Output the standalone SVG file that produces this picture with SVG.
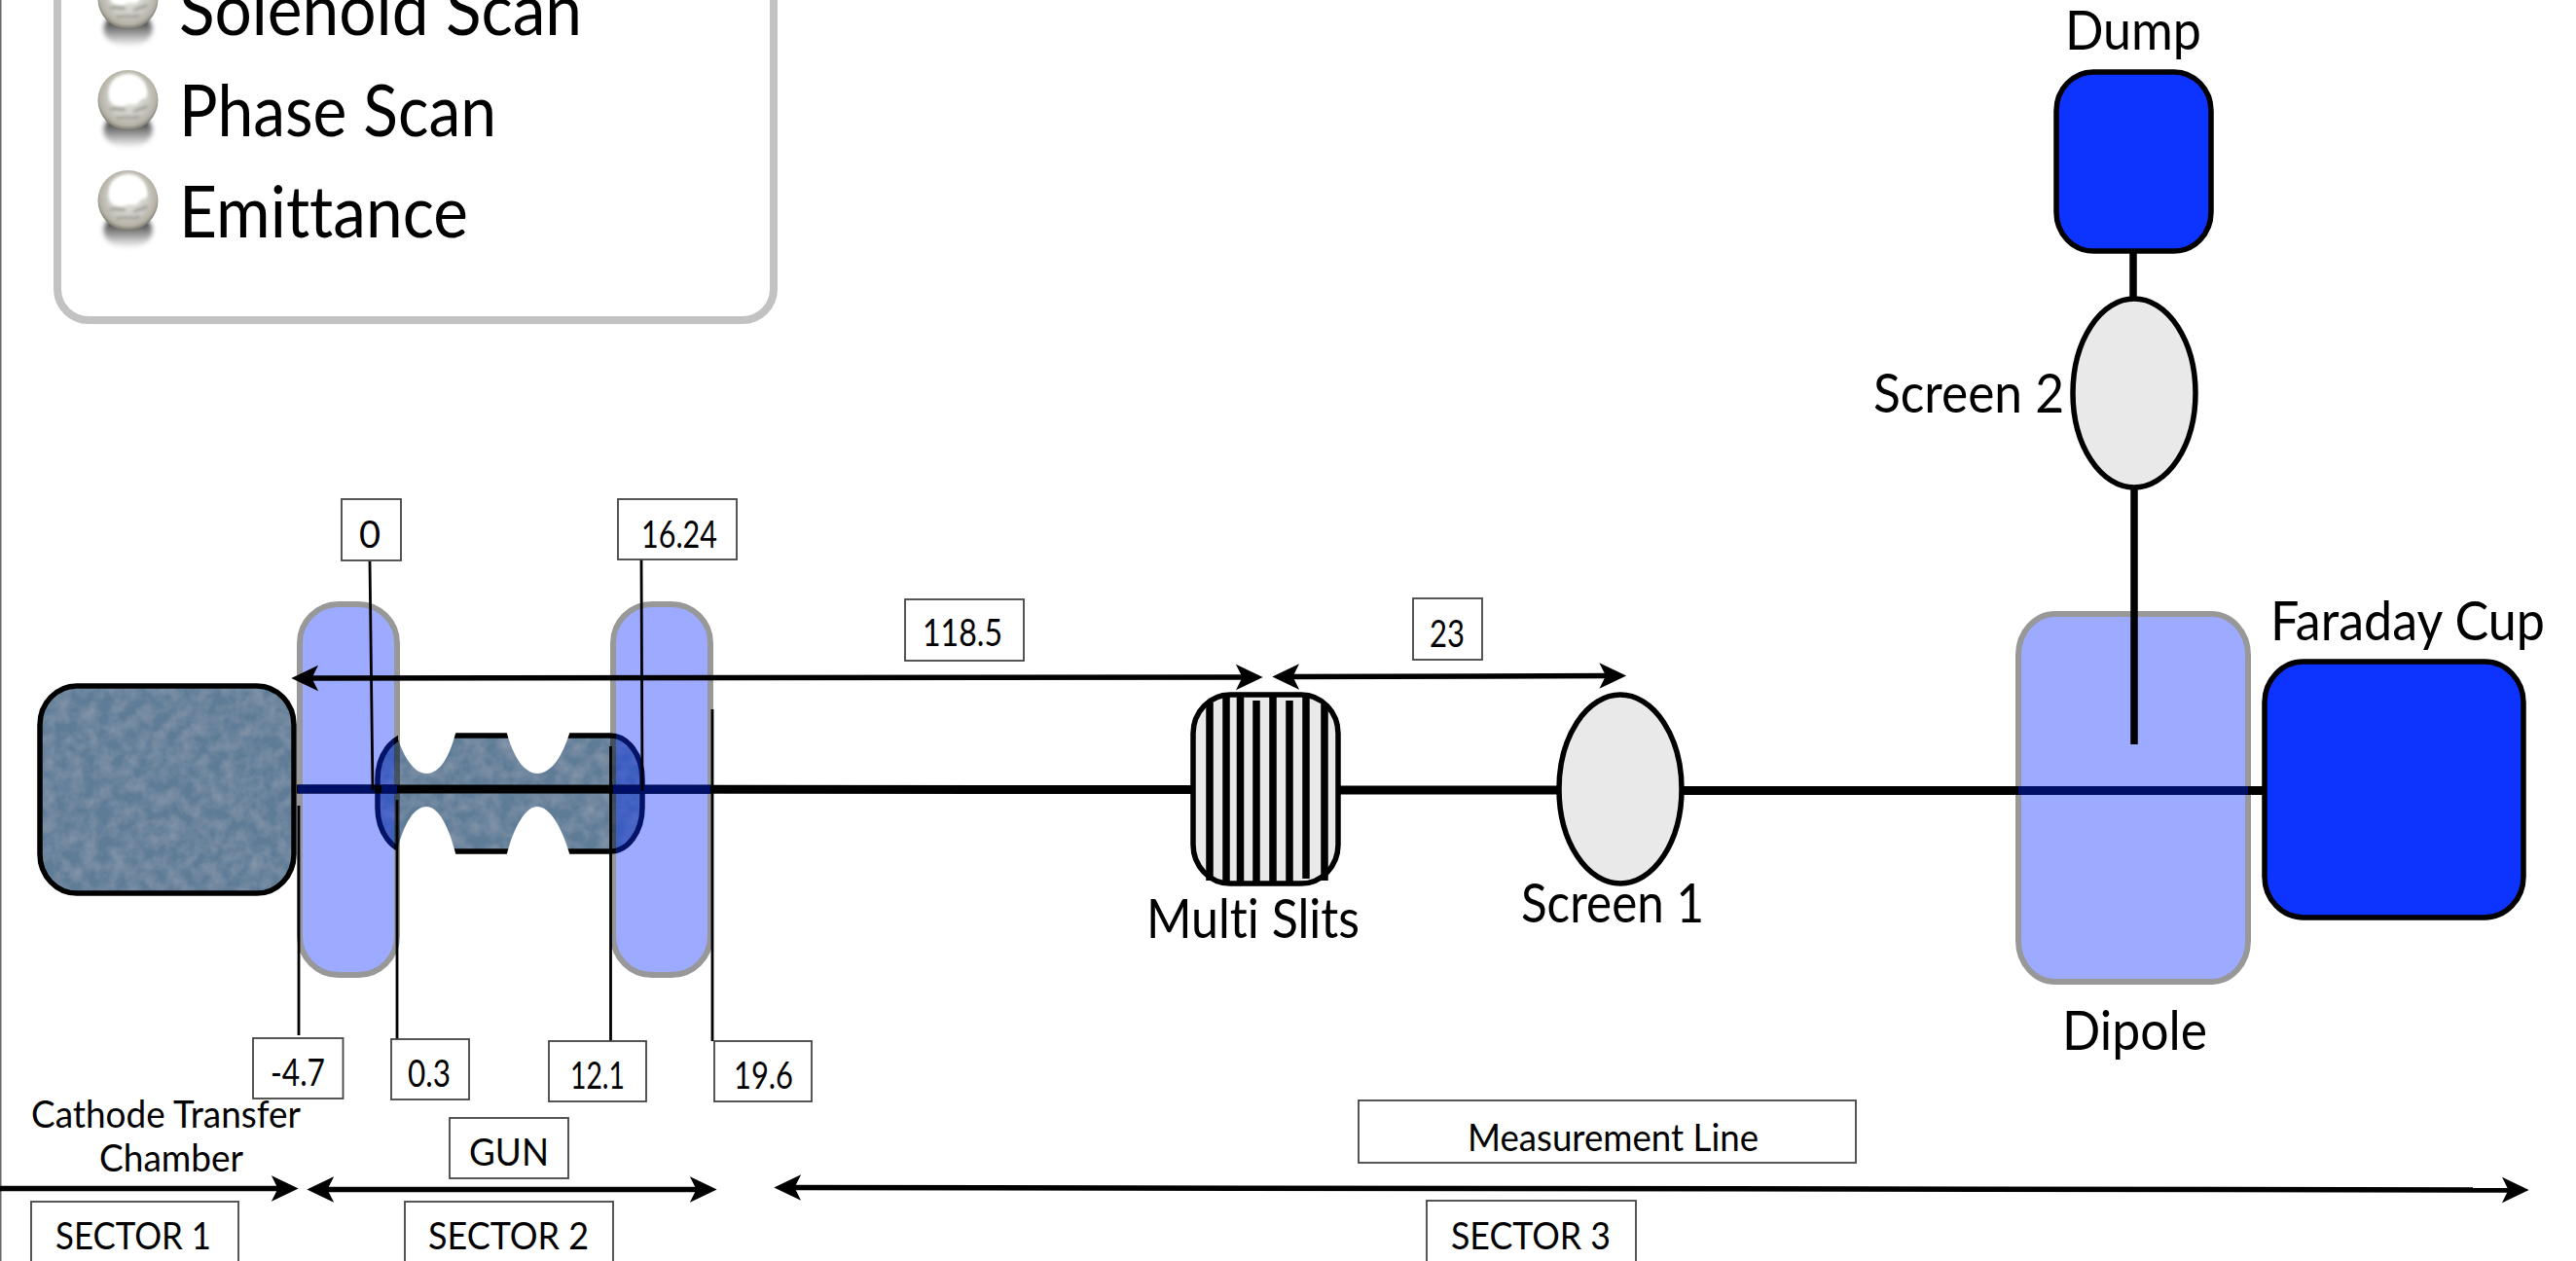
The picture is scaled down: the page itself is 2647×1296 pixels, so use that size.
<svg xmlns="http://www.w3.org/2000/svg" width="2647" height="1296" viewBox="0 0 2647 1296">
<style>
text{font-family:"Lato","Open Sans","Liberation Sans",sans-serif;fill:#000;font-variant-ligatures:none}
.big{font-size:74px}
.lab{font-size:56px}
.sm{font-size:38px}
.box{fill:#fff;stroke:#444;stroke-width:1.8}
.thin{stroke:#000;stroke-width:2.8;fill:none}
.beam{stroke:#000;stroke-width:9;fill:none}
.navy{stroke:#000f66;stroke-width:9;fill:none}
.arr{stroke:#000;stroke-width:5.500;fill:none;marker-start:url(#head);marker-end:url(#head)}
.mag{fill:#0a30ff;stroke:#000;stroke-width:6;opacity:.4}
.blk{stroke:#000;stroke-width:5.500}
.blue{fill:#0d33ff}
.scr{fill:#e9e9e9}
.steel{fill:#5f7b97}
.slit{stroke:#000;stroke-width:7.500}
</style>
<defs>
<marker id="head" markerUnits="userSpaceOnUse" markerWidth="30" markerHeight="30" viewBox="0 0 27 26" refX="10" refY="13" orient="auto-start-reverse">
<path d="M25 13 L0 1 L6 13 L0 25 Z" fill="#000"/>
</marker>
<radialGradient id="ball" cx=".5" cy=".45" r=".56">
<stop offset="0" stop-color="#e6e5e0"/><stop offset=".6" stop-color="#cbcac3"/><stop offset=".84" stop-color="#b5b1a6"/><stop offset="1" stop-color="#6f6c64"/>
</radialGradient>
<linearGradient id="shade" x1="0" y1="0" x2="0" y2="1"><stop offset="0" stop-color="#000" stop-opacity="1"/><stop offset="1" stop-color="#000" stop-opacity="0"/></linearGradient>
<filter id="soft" x="-30%" y="-30%" width="160%" height="160%"><feGaussianBlur stdDeviation="2.500"/></filter>
<filter id="soft2" x="-30%" y="-30%" width="160%" height="160%"><feGaussianBlur stdDeviation="1.500"/></filter>
<filter id="tex" x="0" y="0" width="100%" height="100%">
<feTurbulence type="fractalNoise" baseFrequency=".07" numOctaves="3" seed="4" result="n"/>
<feColorMatrix in="n" type="matrix" values="0 0 0 0 1  0 0 0 0 1  0 0 0 0 1  .22 0 0 0 -.07" result="m"/>
<feComposite in="m" in2="SourceGraphic" operator="in" result="c"/>
<feMerge><feMergeNode in="SourceGraphic"/><feMergeNode in="c"/></feMerge>
</filter>
<g id="bullet">
<ellipse cx="0" cy="31" rx="25" ry="18" fill="url(#shade)" filter="url(#soft)"/>
<ellipse cx="0" cy="0" rx="31" ry="31" fill="url(#ball)"/>
<path d="M-20 -6C-20 -22 -8 -27 1 -27C12 -27 20 -18 20 -6C20 0 14 -3 11 2C8 7 3 2 -2 5C-9 8 -20 6 -20 -6Z" fill="#fff" filter="url(#soft2)"/>
<path d="M-19 10C-12 6 -6 12 -3 9M6 12C10 8 15 10 20 6M-12 19C-6 16 4 20 12 17" fill="none" stroke="#a5a49c" stroke-width="3" filter="url(#soft2)"/>
</g>
</defs>
<rect width="2647" height="1296" fill="#fff"/>
<g id="page-edge"><rect x="0" y="0" width="1.5" height="1296" fill="#666"/></g>
<g id="legend">
<rect x="59" y="-120" width="736" height="449" rx="32" ry="32" fill="#fff" stroke="#c2c2c2" stroke-width="8"/>
<use href="#bullet" x="131.500" y="-1"/><use href="#bullet" x="131.500" y="103"/><use href="#bullet" x="131.500" y="206"/>
<text class="big" x="184" y="36" textLength="414" lengthAdjust="spacingAndGlyphs">Solenoid Scan</text>
<text class="big" x="184" y="140" textLength="326" lengthAdjust="spacingAndGlyphs">Phase Scan</text>
<text class="big" x="184" y="244" textLength="297" lengthAdjust="spacingAndGlyphs">Emittance</text>
</g>
<g id="cathode-chamber">
<rect class="steel" x="41" y="705" width="261" height="213" rx="38" ry="40" filter="url(#tex)"/>
<rect class="blk" x="41" y="705" width="261" height="213" rx="38" ry="40" fill="none"/>
<text class="sm" x="32" y="1159" textLength="277" lengthAdjust="spacingAndGlyphs">Cathode Transfer</text>
<text class="sm" x="102" y="1204" textLength="148" lengthAdjust="spacingAndGlyphs">Chamber</text>
</g>
<g id="gun-cavity">
<rect class="steel" x="388" y="756" width="272" height="119" rx="33" ry="45" filter="url(#tex)"/>
<rect class="blk" x="388" y="756" width="272" height="119" rx="33" ry="45" fill="none"/>
<path fill="#fff" d="M409 745 L409 760 C416 780 426 795 438 795 C451 795 461 780 468 754 L470 745 Z"/>
<path fill="#fff" d="M519 745 L521 754 C528 780 540 795 552 795 C565 795 577 780 585 754 L587 745 Z"/>
<path fill="#fff" d="M409 886 L409 870 C416 845 426 829 438 829 C451 829 461 850 468 877 L470 886 Z"/>
<path fill="#fff" d="M519 886 L521 877 C528 850 540 829 552 829 C565 829 577 850 585 877 L587 886 Z"/>
</g>
<g id="solenoid-1"><rect class="mag" x="308" y="621" width="100" height="381" rx="40" ry="40"/></g>
<g id="solenoid-2"><rect class="mag" x="630" y="621" width="100" height="381" rx="40" ry="40"/></g>
<g id="dipole">
<rect class="mag" x="2074" y="631" width="236" height="378" rx="38" ry="42"/>
<text class="lab" x="2119" y="1079" textLength="149" lengthAdjust="spacingAndGlyphs">Dipole</text>
</g>
<g id="multi-slits">
<rect class="scr" x="1226" y="714" width="149" height="194" rx="38" ry="40"/>
<path class="slit" d="M1243 722V905M1260 716V908M1274.500 716V908M1291 720V908M1308 714V908M1325 720V908M1342 716V903M1361 724V905"/>
<rect class="blk" x="1226" y="714" width="149" height="194" rx="38" ry="40" fill="none"/>
<text class="lab" x="1178" y="964" textLength="219" lengthAdjust="spacingAndGlyphs">Multi Slits</text>
</g>
<g id="screen-1">
<ellipse class="scr blk" cx="1665" cy="811" rx="63" ry="97"/>
<text class="lab" x="1563" y="948" textLength="188" lengthAdjust="spacingAndGlyphs">Screen 1</text>
</g>
<g id="screen-2">
<ellipse class="scr blk" cx="2193" cy="404" rx="63" ry="97"/>
<text class="lab" x="1925" y="424" textLength="196" lengthAdjust="spacingAndGlyphs">Screen 2</text>
</g>
<g id="dump">
<rect class="blue blk" x="2113" y="74" width="159" height="184" rx="38" ry="40"/>
<text class="lab" x="2122" y="51" textLength="140" lengthAdjust="spacingAndGlyphs">Dump</text>
</g>
<g id="faraday-cup">
<rect class="blue blk" x="2327" y="680" width="266" height="263" rx="40" ry="42"/>
<text class="lab" x="2333" y="658" textLength="282" lengthAdjust="spacingAndGlyphs">Faraday Cup</text>
</g>
<g id="connectors">
<path class="beam" d="M305 811L1224 811.5M1376 812H1600M1730 812.500H2326"/>
<path class="navy" d="M306 811H385M392 811H408M630 811.200H730M2074 812.500H2310"/>
<path class="beam" style="stroke-width:7.500" d="M2192 258V306M2193 501V765"/>
<path class="thin" d="M380 577L383 812M659 573L660 813M732 729V1070M307 828V1064M408 822V1068M627.500 767V1070"/>
<path class="arr" d="M316 697L1281 696"/>
<path class="arr" d="M1324 695.500L1654.500 694.500"/>
<path class="arr" style="marker-start:none" d="M0 1221.500H290"/>
<path class="arr" d="M332 1222.500H720"/>
<path class="arr" d="M812 1220.500L2582 1223"/>
</g>
<g id="label-0"><rect class="box" x="351" y="513" width="61" height="63"/><text class="sm" x="380" y="563" text-anchor="middle">0</text></g>
<g id="label-16-24"><rect class="box" x="635" y="513" width="122" height="62"/><text class="sm" x="659" y="563" textLength="78" lengthAdjust="spacingAndGlyphs">16.24</text></g>
<g id="label-minus-4-7"><rect class="box" x="260" y="1067" width="92.500" height="62"/><text class="sm" x="278" y="1116" textLength="56" lengthAdjust="spacingAndGlyphs">-4.7</text></g>
<g id="label-0-3"><rect class="box" x="402" y="1068" width="80" height="62"/><text class="sm" x="419" y="1117" textLength="44" lengthAdjust="spacingAndGlyphs">0.3</text></g>
<g id="label-12-1"><rect class="box" x="564" y="1070" width="100" height="62"/><text class="sm" x="586" y="1119" textLength="56" lengthAdjust="spacingAndGlyphs">12.1</text></g>
<g id="label-19-6"><rect class="box" x="734" y="1070" width="100" height="62"/><text class="sm" x="754" y="1119" textLength="61" lengthAdjust="spacingAndGlyphs">19.6</text></g>
<g id="label-118-5"><rect class="box" x="930" y="616" width="122" height="63"/><text class="sm" x="948" y="664" textLength="82" lengthAdjust="spacingAndGlyphs">118.5</text></g>
<g id="label-23"><rect class="box" x="1452" y="615" width="71" height="63"/><text class="sm" x="1469" y="665" textLength="36" lengthAdjust="spacingAndGlyphs">23</text></g>
<g id="label-gun"><rect class="box" x="462" y="1149" width="122" height="62"/><text class="sm" x="482" y="1198" textLength="82" lengthAdjust="spacingAndGlyphs">GUN</text></g>
<g id="label-measurement-line"><rect class="box" x="1396" y="1131" width="511" height="64"/><text class="sm" x="1508" y="1183" textLength="299" lengthAdjust="spacingAndGlyphs">Measurement Line</text></g>
<g id="label-sector-1"><rect class="box" x="32" y="1235" width="213" height="80"/><text class="sm" x="57" y="1284" textLength="160" lengthAdjust="spacingAndGlyphs">SECTOR 1</text></g>
<g id="label-sector-2"><rect class="box" x="416" y="1235" width="214" height="80"/><text class="sm" x="440" y="1284" textLength="165" lengthAdjust="spacingAndGlyphs">SECTOR 2</text></g>
<g id="label-sector-3"><rect class="box" x="1466" y="1234" width="215" height="80"/><text class="sm" x="1491" y="1284" textLength="164" lengthAdjust="spacingAndGlyphs">SECTOR 3</text></g>
</svg>
